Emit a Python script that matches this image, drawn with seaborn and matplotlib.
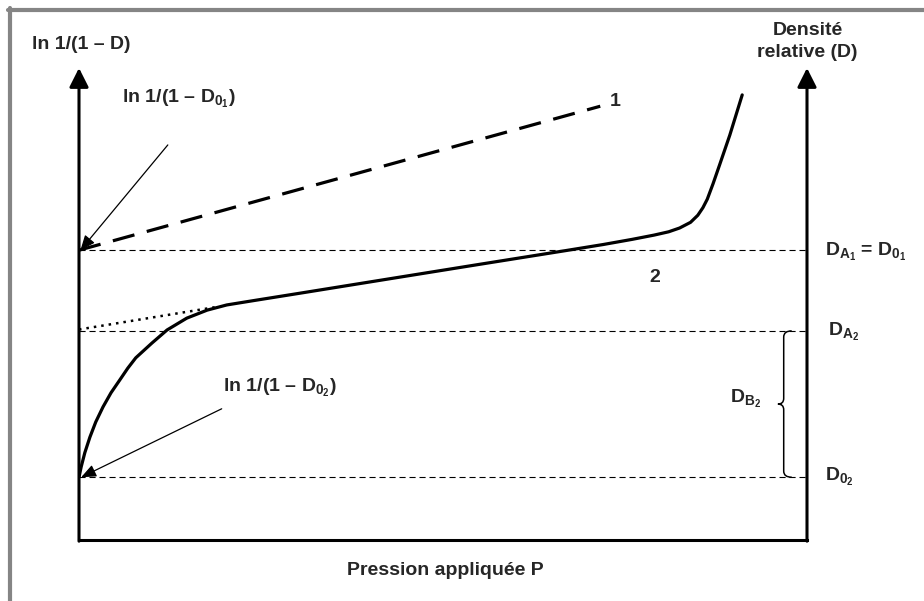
import matplotlib
matplotlib.use("Agg")
import matplotlib.pyplot as plt
from matplotlib.lines import Line2D
from matplotlib.path import Path
from matplotlib.patches import PathPatch
import numpy as np
import pandas as pd
import seaborn as sns

# data (x = pression, y = ln 1/(1 - D), arbitrary units 0..100)
level_d01 = 61.4
level_da2 = 44.3
level_d02 = 13.3

curve1_p = [0.0, 71.6]
curve1_y = [61.4, 91.9]

curve2_p = [0.0, 0.3, 0.8, 1.5, 2.3, 3.3, 4.4, 5.6, 6.7, 7.8, 10.0, 12.1, 14.8,
            17.6, 20.3, 23.9, 30.4, 44.1, 55.0, 66.8, 72.0, 76.0, 79.0, 81.0,
            82.5, 84.0, 85.0, 85.7, 86.3, 87.1, 88.0, 89.4, 91.1]
curve2_y = [13.3, 15.5, 18.5, 21.8, 25.0, 28.2, 31.2, 33.9, 36.4, 38.6, 41.7,
            44.5, 47.0, 48.7, 49.8, 50.7, 52.3, 55.7, 58.4, 61.3, 62.6, 63.7,
            64.6, 65.3, 66.1, 67.3, 68.8, 70.4, 72.2, 75.5, 79.5, 85.8, 94.3]

extrap_p = [0.0, 19.0]
extrap_y = [44.6, 49.4]

sns.set_theme(style="white")
plt.rcParams["font.family"] = ["Liberation Sans", "DejaVu Sans"]
plt.rcParams["font.weight"] = "bold"
plt.rcParams["mathtext.fontset"] = "custom"
plt.rcParams["mathtext.rm"] = "Liberation Sans:bold"
plt.rcParams["mathtext.bf"] = "Liberation Sans:bold"
plt.rcParams["mathtext.it"] = "Liberation Sans:bold"

fig = plt.figure(figsize=(9.24, 6.01), dpi=100)
ax = fig.add_axes([79 / 924, 61 / 601, 728 / 924, 472 / 601])
ax.set_xlim(0, 100)
ax.set_ylim(0, 100)
ax.set_xticks([])
ax.set_yticks([])
sns.despine(ax=ax, left=True, right=True, top=True)
ax.spines["bottom"].set_color("black")
ax.spines["bottom"].set_linewidth(2.2)

# grey frame (top and left only)
fig.add_artist(Line2D([8 / 924, 1], [1 - 10 / 601, 1 - 10 / 601], color="#858585", lw=3))
fig.add_artist(Line2D([10 / 924, 10 / 924], [0, 1 - 8 / 601], color="#858585", lw=3))

# axes with arrows
for xv in [0, 100]:
    ax.annotate("", xy=(xv, 100), xytext=(xv, -0.25),
                arrowprops=dict(arrowstyle="-|>,head_length=1.15,head_width=0.58",
                                mutation_scale=10, lw=2.2, color="black",
                                shrinkA=0, shrinkB=0), annotation_clip=False)

# reference levels
for lv in [level_d01, level_da2, level_d02]:
    ax.plot([0, 100], [lv, lv], color="black", lw=0.8, ls=(0, (5.5, 3.5)))

df1 = pd.DataFrame({"P": curve1_p, "y": curve1_y})
df2 = pd.DataFrame({"P": curve2_p, "y": curve2_y})
dfe = pd.DataFrame({"P": extrap_p, "y": extrap_y})
sns.lineplot(data=df1, x="P", y="y", ax=ax, color="black", lw=2.3,
             ls=(0, (7, 4)), sort=False, estimator=None)
sns.lineplot(data=dfe, x="P", y="y", ax=ax, color="black", lw=1.8,
             ls=(0, (1, 2)), sort=False, estimator=None)
sns.lineplot(data=df2, x="P", y="y", ax=ax, color="black", lw=2.3,
             sort=False, estimator=None, solid_joinstyle="round")
ax.set_xlabel("")
ax.set_ylabel("")

# brace for D_B2
bx, tip = 96.8, 96.0
mid = 28.8
verts = [(97.9, level_da2), (96.8, level_da2), (bx, level_da2 - 1.3),
         (bx, mid + 1.2), (bx, mid), (tip, mid),
         (bx, mid), (bx, mid - 1.2),
         (bx, level_d02 + 1.3), (bx, level_d02), (97.9, level_d02)]
codes = [Path.MOVETO, Path.CURVE3, Path.CURVE3, Path.LINETO, Path.CURVE3, Path.CURVE3,
         Path.CURVE3, Path.CURVE3, Path.LINETO, Path.CURVE3, Path.CURVE3]
ax.add_patch(PathPatch(Path(verts, codes), fill=False, lw=1.1, color="black"))

fs = 14
arrow_small = dict(arrowstyle="-|>,head_length=0.9,head_width=0.38", mutation_scale=10,
                   lw=0.9, color="black", shrinkA=0, shrinkB=0)
ax.text(13.7, 93.4, r"ln 1/(1 – D$_{0_1}$)", ha="center", va="center",
        fontsize=fs, fontweight="bold")
ax.annotate("", xy=(0.2, level_d01), xytext=(12.2, 83.7),
            arrowprops=arrow_small, annotation_clip=False)
ax.text(27.6, 32.2, r"ln 1/(1 – D$_{0_2}$)", ha="center", va="center",
        fontsize=fs, fontweight="bold")
ax.annotate("", xy=(0.3, level_d02), xytext=(19.6, 27.8),
            arrowprops=arrow_small, annotation_clip=False)

ax.text(-6.5, 104.9, "ln 1/(1 – D)", ha="left", va="center", fontsize=fs,
        fontweight="bold", clip_on=False)
ax.text(100.1, 105.6, "Densité\nrelative (D)", ha="center", va="center",
        fontsize=fs, fontweight="bold", linespacing=1.4, clip_on=False)
ax.text(50.3, -6.4, "Pression appliquée P", ha="center", va="center",
        fontsize=fs, fontweight="bold", clip_on=False)

ax.text(73.6, 93.0, "1", ha="center", va="center", fontsize=fs, fontweight="bold")
ax.text(79.1, 55.7, "2", ha="center", va="center", fontsize=fs, fontweight="bold")
ax.text(91.6, 29.9, r"D$_{B_2}$", ha="center", va="center", fontsize=fs, fontweight="bold")

ax.text(102.5, 61.0, r"D$_{A_1}$ = D$_{0_1}$", ha="left", va="center", fontsize=fs,
        fontweight="bold", clip_on=False)
ax.text(102.9, 44.1, r"D$_{A_2}$", ha="left", va="center", fontsize=fs,
        fontweight="bold", clip_on=False)
ax.text(102.5, 13.3, r"D$_{0_2}$", ha="left", va="center", fontsize=fs,
        fontweight="bold", clip_on=False)

fig.savefig("out.png", dpi=100, facecolor="white")
